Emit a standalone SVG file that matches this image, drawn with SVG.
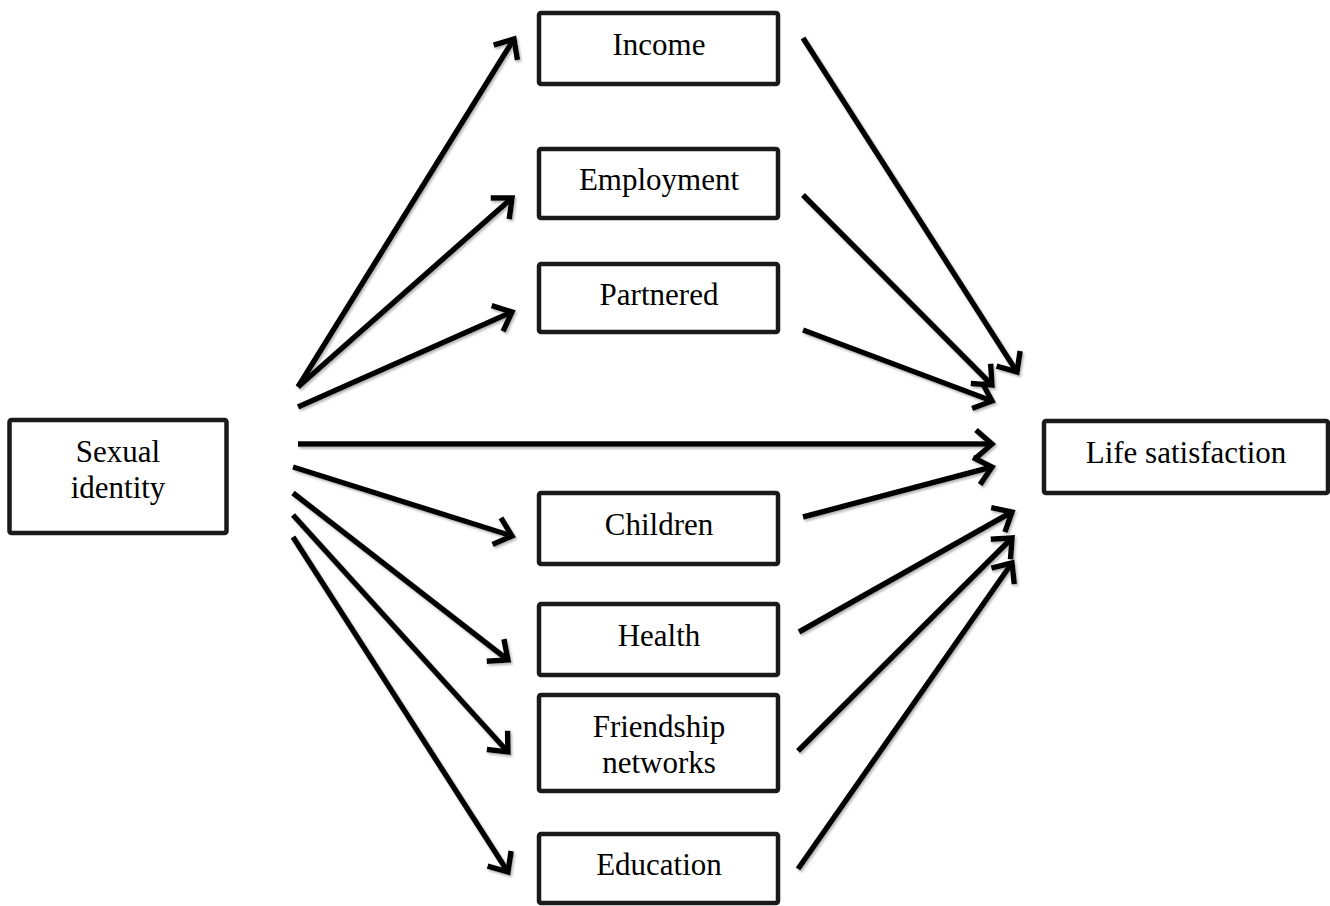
<svg xmlns="http://www.w3.org/2000/svg" width="1330" height="906" viewBox="0 0 1330 906">
<style>
.box{fill:#fff;stroke:#1a1a1a;stroke-width:4.5}
.lbl{font-family:"Liberation Serif","Times New Roman",serif;font-size:31px;fill:#000;text-anchor:middle}
.con{stroke:#000;stroke-width:5.5;fill:none;marker-end:url(#ah)}
</style>
<defs>
<marker id="ah" markerUnits="userSpaceOnUse" markerWidth="44" markerHeight="44" viewBox="-24 -22 30 44" refX="0" refY="0" orient="auto">
<path d="M-16,-14 L0,0 L-16,14" fill="none" stroke="#000" stroke-width="5.5" stroke-linejoin="miter"/>
</marker>
<filter id="sh" x="-10%" y="-10%" width="120%" height="120%">
<feDropShadow dx="1.5" dy="2" stdDeviation="0.8" flood-color="#888" flood-opacity="0.6"/>
</filter>
</defs>
<rect width="1330" height="906" fill="#fff"/>
<g id="connectors" filter="url(#sh)">
<line class="con" x1="298" y1="387" x2="514" y2="39"/>
<line class="con" x1="298" y1="387" x2="512" y2="198"/>
<line class="con" x1="298" y1="407" x2="512" y2="312"/>
<line class="con" x1="298" y1="444" x2="992" y2="444"/>
<line class="con" x1="293" y1="467" x2="512" y2="536"/>
<line class="con" x1="293" y1="493" x2="508" y2="660"/>
<line class="con" x1="293" y1="515" x2="508" y2="752"/>
<line class="con" x1="293" y1="537" x2="508" y2="872"/>
<line class="con" x1="803" y1="38" x2="1017" y2="372"/>
<line class="con" x1="803" y1="195" x2="992" y2="385"/>
<line class="con" x1="803" y1="330" x2="992" y2="401"/>
<line class="con" x1="803" y1="517" x2="992" y2="467"/>
<line class="con" x1="799" y1="632" x2="1012" y2="512"/>
<line class="con" x1="798" y1="751" x2="1012" y2="538"/>
<line class="con" x1="798" y1="869" x2="1012" y2="563"/>
</g>
<g id="sexual-identity">
<rect class="box" x="9.5" y="420" width="217" height="113" rx="2"/>
<text class="lbl" x="118" y="462">Sexual</text>
<text class="lbl" x="118" y="498">identity</text>
</g>
<g id="income">
<rect class="box" x="539" y="13" width="239" height="71" rx="2"/>
<text class="lbl" x="659" y="55">Income</text>
</g>
<g id="employment">
<rect class="box" x="539" y="149" width="239" height="69" rx="2"/>
<text class="lbl" x="659" y="190">Employment</text>
</g>
<g id="partnered">
<rect class="box" x="539" y="264" width="239" height="68" rx="2"/>
<text class="lbl" x="659" y="305">Partnered</text>
</g>
<g id="children">
<rect class="box" x="539" y="493" width="239" height="71" rx="2"/>
<text class="lbl" x="659" y="535">Children</text>
</g>
<g id="health">
<rect class="box" x="539" y="604" width="239" height="71" rx="2"/>
<text class="lbl" x="659" y="646">Health</text>
</g>
<g id="friendship-networks">
<rect class="box" x="539" y="695" width="239" height="96" rx="2"/>
<text class="lbl" x="659" y="737">Friendship</text>
<text class="lbl" x="659" y="773">networks</text>
</g>
<g id="education">
<rect class="box" x="539" y="834" width="239" height="69" rx="2"/>
<text class="lbl" x="659" y="875">Education</text>
</g>
<g id="life-satisfaction">
<rect class="box" x="1044" y="421" width="284" height="72" rx="2"/>
<text class="lbl" x="1186" y="463">Life satisfaction</text>
</g>
</svg>
